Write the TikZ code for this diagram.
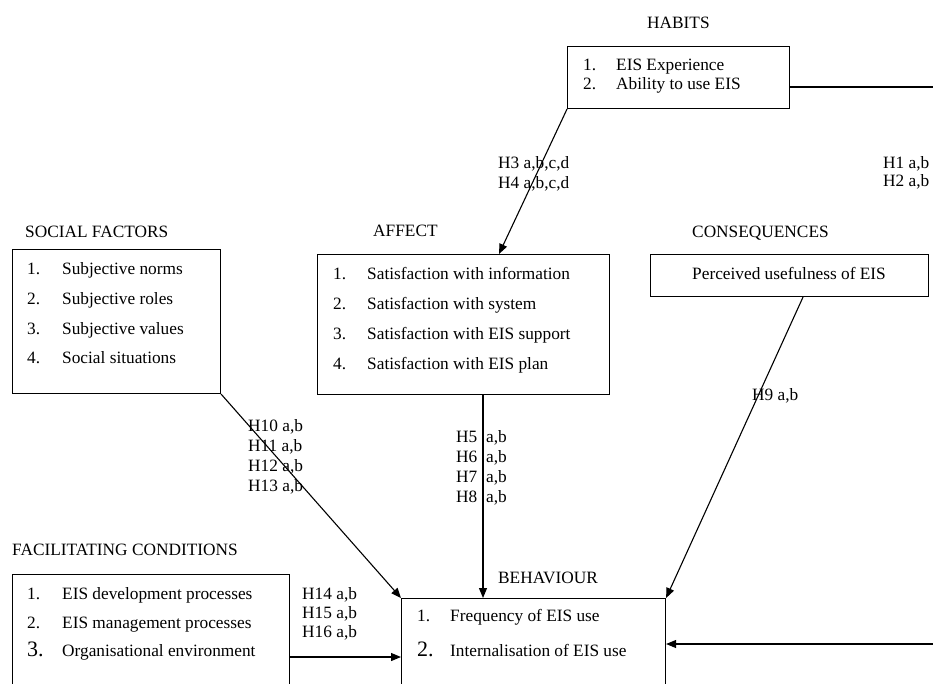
\documentclass[tikz,border=0pt]{standalone}
\usepackage{fontspec}
\setmainfont{Liberation Serif}
\usetikzlibrary{arrows.meta}
\begin{document}
\begin{tikzpicture}[x=1pt,y=-1pt,
  every node/.style={font=\fontsize{17.3}{20}\selectfont},
  panel/.style={draw, line width=1.1pt, inner sep=0pt, anchor=north west},
  txt/.style={anchor=base west, inner sep=0pt},
  big/.style={txt, font=\fontsize{22}{24}\selectfont},
  link/.style={line width=1.1pt, -{Triangle[length=10pt,width=8pt]}},
  plain/.style={line width=1.1pt}]
\useasboundingbox (0,0) rectangle (933,683);
\clip (0,0) rectangle (933,683);

% ---------- HABITS ----------
\node[txt] (habT) at (647,28) {HABITS};
\node[panel, minimum width=222pt, minimum height=62pt] (hab) at (567,46) {};
\node[txt] (hab1n) at (583,70) {1.};
\node[txt] (hab1) at (616,70) {EIS Experience};
\node[txt] (hab2n) at (583,89) {2.};
\node[txt] (hab2) at (616,89) {Ability to use EIS};

% ---------- SOCIAL FACTORS ----------
\node[txt] (socT) at (25,237) {SOCIAL FACTORS};
\node[panel, minimum width=208pt, minimum height=144pt] (soc) at (12,249) {};
\node[txt] (soc1n) at (27,274) {1.};
\node[txt] (soc1) at (62,274) {Subjective norms};
\node[txt] (soc2n) at (27,304) {2.};
\node[txt] (soc2) at (62,304) {Subjective roles};
\node[txt] (soc3n) at (27,334) {3.};
\node[txt] (soc3) at (62,334) {Subjective values};
\node[txt] (soc4n) at (27,363) {4.};
\node[txt] (soc4) at (62,363) {Social situations};

% ---------- AFFECT ----------
\node[txt] (affT) at (373,236) {AFFECT};
\node[panel, minimum width=292pt, minimum height=140pt] (aff) at (317,254) {};
\node[txt] (aff1n) at (333,279) {1.};
\node[txt] (aff1) at (367,279) {Satisfaction with information};
\node[txt] (aff2n) at (333,309) {2.};
\node[txt] (aff2) at (367,309) {Satisfaction with system};
\node[txt] (aff3n) at (333,339) {3.};
\node[txt] (aff3) at (367,339) {Satisfaction with EIS support};
\node[txt] (aff4n) at (333,369) {4.};
\node[txt] (aff4) at (367,369) {Satisfaction with EIS plan};

% ---------- CONSEQUENCES ----------
\node[txt] (conT) at (692,237) {CONSEQUENCES};
\node[panel, minimum width=278pt, minimum height=42pt] (con) at (650,254) {};
\node[anchor=base, inner sep=0pt] (con1) at (789,279) {Perceived usefulness of EIS};

% ---------- FACILITATING CONDITIONS ----------
\node[txt] (facT) at (12,555) {FACILITATING CONDITIONS};
\node[panel, minimum width=277pt, minimum height=200pt] (fac) at (12,574) {};
\node[txt] (fac1n) at (27,599) {1.};
\node[txt] (fac1) at (62,599) {EIS development processes};
\node[txt] (fac2n) at (27,628) {2.};
\node[txt] (fac2) at (62,628) {EIS management processes};
\node[big] (fac3n) at (27,656) {3.};
\node[txt] (fac3) at (62,656) {Organisational environment};

% ---------- BEHAVIOUR ----------
\node[txt] (behT) at (498,583) {BEHAVIOUR};
\node[panel, minimum width=264pt, minimum height=200pt] (beh) at (401,598) {};
\node[txt] (beh1n) at (417,621) {1.};
\node[txt] (beh1) at (450,621) {Frequency of EIS use};
\node[big] (beh2n) at (417,656) {2.};
\node[txt] (beh2) at (450,656) {Internalisation of EIS use};

% ---------- hypothesis labels ----------
\node[txt] (h3) at (498,168) {H3 a,b,c,d};
\node[txt] (h4) at (498,188) {H4 a,b,c,d};
\node[txt] (h1) at (883,168) {H1 a,b};
\node[txt] (h2) at (883,186) {H2 a,b};
\node[txt] (h9) at (752,400) {H9 a,b};
\node[txt] (h10) at (248,431) {H10 a,b};
\node[txt] (h11) at (248,451) {H11 a,b};
\node[txt] (h12) at (248,471) {H12 a,b};
\node[txt] (h13) at (248,491) {H13 a,b};
\node[txt] (h5) at (456,442) {H5\hspace{4.5pt} a,b};
\node[txt] (h6) at (456,462) {H6\hspace{4.5pt} a,b};
\node[txt] (h7) at (456,482) {H7\hspace{4.5pt} a,b};
\node[txt] (h8) at (456,502) {H8\hspace{4.5pt} a,b};
\node[txt] (h14) at (302,599) {H14 a,b};
\node[txt] (h15) at (302,618) {H15 a,b};
\node[txt] (h16) at (302,637) {H16 a,b};

% ---------- connectors ----------
\draw[link] (hab.south west) -- ([xshift=182pt]aff.north west);
\draw[link] (soc.south east) -- (beh.north west);
\draw[link] ([xshift=166pt]aff.south west) coordinate (affout) -- (affout |- beh.north);
\draw[link] ([xshift=153pt]con.south west) -- (beh.north east);
\coordinate (facrow) at (0,657);
\draw[link] (fac.east |- facrow) -- (beh.west |- facrow);
% habits loop leaving the right edge and coming back into behaviour
\coordinate (loopTop) at (960,87);
\coordinate (loopBot) at (960,644);
\draw[link] (hab.east |- loopTop) -- (loopTop) -- (loopBot) -- (beh.east |- loopBot);
\end{tikzpicture}
\end{document}
